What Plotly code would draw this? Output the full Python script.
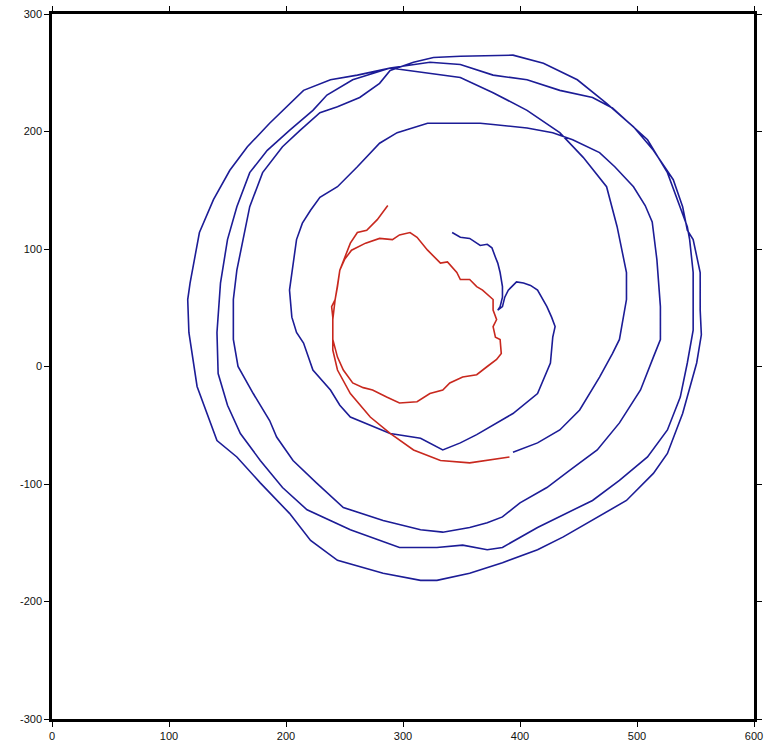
import plotly.graph_objects as go

# Blue drifter track (data units), in path order
blue_x = [342, 349, 357, 366, 372, 376, 379, 381, 383, 385, 385, 383, 381, 385, 387, 390, 393, 397, 403, 409,
          415, 419, 423, 427, 430, 428, 426, 415, 394, 363, 349, 334, 323, 315, 289, 272, 255, 246, 238, 223,
          215, 209, 205, 203, 206, 209, 214, 221, 229, 244, 261, 280, 295, 321, 343, 366, 377, 406, 428, 445,
          468, 481, 497, 507, 513, 515, 517, 520, 520, 514, 503, 485, 466, 443, 423, 400, 385, 372, 357, 334,
          315, 283, 249, 226, 206, 192, 186, 172, 159, 155, 155, 158, 163, 169, 180, 197, 212, 229, 244, 263,
          280, 289,
          309, 326, 349, 377, 394, 420, 449, 474, 497, 514, 531, 539, 543, 548, 554, 554, 555, 551, 539, 526,
          514, 491, 462, 437, 415, 385, 357, 329, 315, 283, 244, 221, 203, 178, 158, 141, 124, 117, 116, 118,
          126, 138, 152, 167, 186, 215, 238, 261, 280, 289,
          323, 349, 377, 406, 434, 462, 479, 497, 509, 526, 543, 545, 548, 548, 543, 537, 526, 509, 485, 462,
          440, 415, 385, 372, 351, 329, 315, 297, 255, 218, 197, 178, 161, 150, 142, 141, 144, 150, 158, 169,
          184, 203, 223, 235, 257, 280, 289,
          319, 349, 377, 406, 434, 454, 474, 483, 491, 491, 485, 479, 468, 451, 434, 415, 394]
blue_y = [114, 110, 109, 103, 104, 101, 93, 88, 80, 68, 59, 51, 48, 51, 59, 65, 68, 72, 71, 69,
          65, 58, 51, 42, 34, 25, 3, -23, -40, -58, -65, -71, -65, -61, -57, -50, -43, -33, -20, -3,
          20, 29, 42, 65, 85, 108, 122, 133, 144, 153, 170, 190, 199, 207, 207, 207, 206, 203, 199, 193,
          182, 170, 153, 137, 123, 108, 91, 51, 23, 8, -20, -48, -71, -88, -103, -116, -128, -133, -137, -141,
          -139, -131, -120, -99, -80, -60, -46, -23, 0, 23, 57, 82, 108, 136, 165, 187, 201, 216, 221, 229,
          241, 252,
          259, 263, 264, 265, 265, 258, 244, 224, 204, 184, 159, 136, 116, 108, 80, 48, 27, 3, -40, -74,
          -91, -114, -131, -145, -156, -167, -176, -182, -182, -176, -165, -148, -125, -99, -77, -63, -17, 29, 57, 71,
          114, 142, 167, 187, 207, 235, 244, 248, 252, 254,
          259, 257, 248, 244, 235, 229, 220, 204, 193, 165, 119, 108, 80, 31, 3, -26, -54, -77, -97, -114,
          -125, -137, -154, -156, -152, -154, -154, -154, -139, -122, -103, -80, -57, -33, -6, 29, 71, 108, 136, 165,
          184, 201, 218, 231, 244, 251, 254,
          250, 246, 233, 218, 199, 178, 153, 119, 80, 57, 23, 11, -9, -37, -54, -65, -73]

# Red drifter track (data units), in path order
red_x = [287, 278, 269, 261, 255, 250, 246, 244, 242, 239, 240, 240, 244, 249, 257, 266, 274, 286, 297, 312,
         323, 334, 340, 351, 363, 372, 380, 384, 383, 379, 377, 380, 377, 377, 372, 368, 363, 357, 349, 346,
         338, 332, 321, 312, 306, 297, 291, 280, 268, 256, 250, 246, 244, 242, 240, 240, 244, 255, 272, 289,
         309, 332, 357, 372, 391]
red_y = [137, 125, 116, 114, 105, 93, 82, 68, 57, 51, 42, 23, 8, -3, -14, -18, -20, -26, -31, -30,
         -23, -20, -14, -9, -7, 0, 6, 11, 23, 25, 34, 40, 48, 57, 61, 65, 68, 74, 74, 80,
         89, 88, 99, 110, 114, 112, 108, 109, 105, 99, 91, 82, 69, 57, 40, 14, -3, -23, -43, -57,
         -71, -80, -82, -80, -77]

x_ticks = [0, 100, 200, 300, 400, 500, 600]
y_ticks = [-300, -200, -100, 0, 100, 200, 300]

fig = go.Figure()
fig.add_trace(go.Scatter(x=blue_x, y=blue_y, mode="lines",
                         line=dict(color="#1c1c96", width=1.6), showlegend=False))
fig.add_trace(go.Scatter(x=red_x, y=red_y, mode="lines",
                         line=dict(color="#c8281e", width=1.6), showlegend=False))

axis_common = dict(showgrid=False, zeroline=False, showline=True, linecolor="black", linewidth=2.5,
                   mirror="allticks", ticks="outside", ticklen=5, tickwidth=1.2, tickcolor="black",
                   automargin=False,
                   tickfont=dict(family="Liberation Sans, Arial, sans-serif", size=11, color="#111"))

fig.update_xaxes(range=[0, 600], tickvals=x_ticks, ticktext=[str(v) for v in x_ticks], **axis_common)
fig.update_yaxes(range=[-300, 300], tickvals=y_ticks, ticktext=[str(v) for v in y_ticks], **axis_common)

fig.update_layout(width=770, height=747, margin=dict(l=52, r=16, t=14, b=28, autoexpand=False),
                  plot_bgcolor="white", paper_bgcolor="white")

fig.write_html("out.html", config={"displayModeBar": False},
               post_script="document.body.style.margin='0px';document.body.style.overflow='hidden';")
